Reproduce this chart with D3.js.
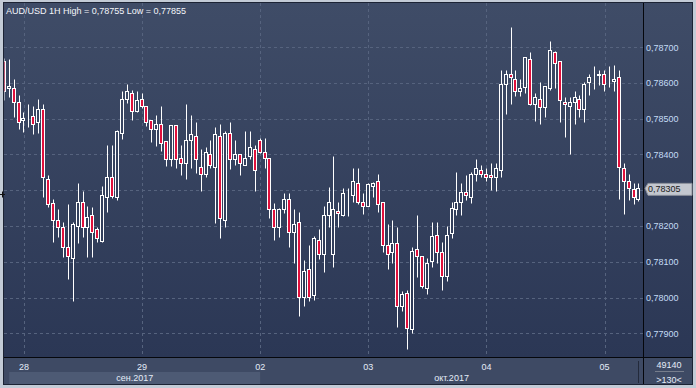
<!DOCTYPE html>
<html>
<head>
<meta charset="utf-8">
<script src="https://cdn.jsdelivr.net/npm/d3@7"></script>
<style>
  html, body { margin: 0; padding: 0; background: #c3cbd6; }
  svg { display: block; }
  text { font-family: 'Liberation Sans', Arial, sans-serif; }
</style>
</head>
<body>
<div id="chart"></div>
<script>
// AUD/USD 1H candles, 130 bars (Sep 27 evening .. Oct 05)
const opens = [
  0.78661, 0.78585, 0.78585, 0.78546, 0.78495, 0.78500, 0.78506, 0.78490, 0.78526, 0.78330,
  0.78265, 0.78216, 0.78196, 0.78141, 0.78110, 0.78200, 0.78266, 0.78196, 0.78231, 0.78191,
  0.78159, 0.78280, 0.78337, 0.78280, 0.78459, 0.78554, 0.78571, 0.78520, 0.78554, 0.78535,
  0.78495, 0.78470, 0.78484, 0.78437, 0.78388, 0.78481, 0.78389, 0.78375, 0.78439, 0.78451,
  0.78364, 0.78344, 0.78400, 0.78364, 0.78451, 0.78216, 0.78459, 0.78386, 0.78400, 0.78370,
  0.78395, 0.78414, 0.78439, 0.78406, 0.78389, 0.78247, 0.78196, 0.78247, 0.78275, 0.78184,
  0.78210, 0.78001, 0.78081, 0.78007, 0.78160, 0.78121, 0.78230, 0.78121, 0.78242, 0.78230,
  0.78287, 0.78286, 0.78319, 0.78266, 0.78256, 0.78312, 0.78325, 0.78266, 0.78146, 0.78127,
  0.78152, 0.77977, 0.78014, 0.77912, 0.78135, 0.78115, 0.78026, 0.78101, 0.78174, 0.78127,
  0.78060, 0.78180, 0.78246, 0.78266, 0.78294, 0.78280, 0.78344, 0.78356, 0.78344, 0.78342,
  0.78336, 0.78355, 0.78596, 0.78624, 0.78610, 0.78578, 0.78589, 0.78666, 0.78540, 0.78554,
  0.78532, 0.78585, 0.78685, 0.78660, 0.78546, 0.78534, 0.78546, 0.78554, 0.78526, 0.78601,
  0.78615, 0.78621, 0.78624, 0.78601, 0.78604, 0.78615, 0.78361, 0.78325, 0.78303, 0.78275
];
const highs = [
  0.78669, 0.78666, 0.78611, 0.78566, 0.78517, 0.78541, 0.78536, 0.78554, 0.78541, 0.78343,
  0.78275, 0.78247, 0.78212, 0.78262, 0.78211, 0.78319, 0.78298, 0.78257, 0.78254, 0.78196,
  0.78312, 0.78426, 0.78426, 0.78468, 0.78577, 0.78597, 0.78580, 0.78577, 0.78571, 0.78536,
  0.78496, 0.78509, 0.78535, 0.78438, 0.78482, 0.78482, 0.78425, 0.78541, 0.78510, 0.78491,
  0.78414, 0.78420, 0.78440, 0.78476, 0.78485, 0.78465, 0.78491, 0.78439, 0.78401, 0.78465,
  0.78465, 0.78425, 0.78445, 0.78445, 0.78390, 0.78265, 0.78251, 0.78291, 0.78291, 0.78247,
  0.78240, 0.78105, 0.78147, 0.78172, 0.78191, 0.78256, 0.78310, 0.78396, 0.78267, 0.78305,
  0.78306, 0.78361, 0.78361, 0.78291, 0.78319, 0.78322, 0.78345, 0.78267, 0.78205, 0.78217,
  0.78197, 0.78017, 0.78021, 0.78141, 0.78230, 0.78116, 0.78110, 0.78211, 0.78211, 0.78155,
  0.78199, 0.78268, 0.78350, 0.78319, 0.78342, 0.78350, 0.78386, 0.78370, 0.78361, 0.78375,
  0.78375, 0.78636, 0.78636, 0.78755, 0.78636, 0.78610, 0.78672, 0.78686, 0.78571, 0.78603,
  0.78591, 0.78717, 0.78689, 0.78661, 0.78560, 0.78560, 0.78577, 0.78565, 0.78603, 0.78624,
  0.78647, 0.78636, 0.78636, 0.78647, 0.78650, 0.78636, 0.78376, 0.78345, 0.78319, 0.78319
];
const lows = [
  0.78552, 0.78560, 0.78505, 0.78470, 0.78463, 0.78476, 0.78457, 0.78461, 0.78280, 0.78254,
  0.78155, 0.78170, 0.78114, 0.78051, 0.77991, 0.78152, 0.78169, 0.78114, 0.78114, 0.78155,
  0.78155, 0.78240, 0.78277, 0.78273, 0.78444, 0.78543, 0.78495, 0.78518, 0.78530, 0.78479,
  0.78435, 0.78423, 0.78408, 0.78368, 0.78368, 0.78361, 0.78343, 0.78330, 0.78361, 0.78349,
  0.78299, 0.78336, 0.78361, 0.78209, 0.78165, 0.78198, 0.78360, 0.78370, 0.78343, 0.78369,
  0.78386, 0.78299, 0.78405, 0.78361, 0.78222, 0.78160, 0.78170, 0.78235, 0.78141, 0.78096,
  0.77949, 0.77975, 0.77989, 0.77993, 0.78107, 0.78070, 0.78197, 0.78085, 0.78197, 0.78229,
  0.78229, 0.78267, 0.78261, 0.78234, 0.78255, 0.78280, 0.78240, 0.78128, 0.78081, 0.78096,
  0.77919, 0.77961, 0.77855, 0.77900, 0.78057, 0.78026, 0.78009, 0.78085, 0.78096, 0.78020,
  0.78046, 0.78166, 0.78231, 0.78231, 0.78273, 0.78263, 0.78325, 0.78338, 0.78325, 0.78301,
  0.78299, 0.78338, 0.78513, 0.78540, 0.78562, 0.78563, 0.78571, 0.78539, 0.78494, 0.78484,
  0.78505, 0.78579, 0.78585, 0.78490, 0.78449, 0.78400, 0.78484, 0.78505, 0.78490, 0.78565,
  0.78584, 0.78593, 0.78576, 0.78589, 0.78576, 0.78275, 0.78234, 0.78273, 0.78261, 0.78269
];
const closes = [
  0.78578, 0.78591, 0.78546, 0.78491, 0.78501, 0.78500, 0.78484, 0.78526, 0.78336, 0.78262,
  0.78216, 0.78196, 0.78141, 0.78116, 0.78205, 0.78266, 0.78196, 0.78224, 0.78184, 0.78165,
  0.78287, 0.78337, 0.78285, 0.78465, 0.78554, 0.78577, 0.78521, 0.78552, 0.78535, 0.78491,
  0.78470, 0.78484, 0.78431, 0.78386, 0.78481, 0.78386, 0.78375, 0.78439, 0.78456, 0.78386,
  0.78344, 0.78406, 0.78370, 0.78456, 0.78222, 0.78459, 0.78388, 0.78400, 0.78375, 0.78389,
  0.78420, 0.78356, 0.78406, 0.78389, 0.78247, 0.78196, 0.78247, 0.78275, 0.78184, 0.78205,
  0.78001, 0.78075, 0.78001, 0.78166, 0.78121, 0.78230, 0.78266, 0.78247, 0.78236, 0.78291,
  0.78287, 0.78325, 0.78266, 0.78256, 0.78317, 0.78319, 0.78262, 0.78146, 0.78121, 0.78152,
  0.77977, 0.78009, 0.77914, 0.78129, 0.78115, 0.78031, 0.78096, 0.78171, 0.78127, 0.78060,
  0.78174, 0.78249, 0.78268, 0.78294, 0.78286, 0.78344, 0.78361, 0.78344, 0.78338, 0.78336,
  0.78361, 0.78596, 0.78624, 0.78615, 0.78576, 0.78585, 0.78671, 0.78540, 0.78560, 0.78532,
  0.78590, 0.78691, 0.78654, 0.78551, 0.78540, 0.78546, 0.78560, 0.78526, 0.78596, 0.78615,
  0.78615, 0.78624, 0.78596, 0.78601, 0.78610, 0.78365, 0.78325, 0.78305, 0.78280, 0.78305
];

// day separators (bar index of midnight) and labels
const dayIndex = [4, 28, 52, 74, 98, 122];
const dayLabels = ['28', '29', '02', '03', '04', '05'];
const monthStart = [1, 52];
const monthLabels = ['сен.2017', 'окт.2017'];
const priceTicks = [0.779, 0.780, 0.781, 0.782, 0.783, 0.784, 0.785, 0.786, 0.787];

const title = 'AUD/USD 1H High = 0,78755 Low = 0,77855';
const lastPrice = closes[closes.length - 1];
const volumeText = '49140';
const barsText = '>130<';

const width = 696, height = 388;
const panel = { left: 4, top: 3, right: 692, bottom: 384 };
const plot = { left: 4, top: 3, right: 643, bottom: 357.5 };

const data = opens.map((o, i) => ({ i, o, h: highs[i], l: lows[i], c: closes[i] }));

const x = d3.scaleBand()
  .domain(d3.range(data.length))
  .range([1.84, 641.44]);
const cx = i => x(i) + x.bandwidth() / 2;

const y = d3.scaleLinear()
  .domain([0.779, 0.787])
  .range([333.3, 47]);

const fmt = v => d3.format('.5f')(v).replace('.', ',');

const svg = d3.select('#chart').append('svg')
  .attr('width', width)
  .attr('height', height);

const defs = svg.append('defs');
const grad = defs.append('linearGradient')
  .attr('id', 'bg')
  .attr('gradientUnits', 'userSpaceOnUse')
  .attr('x1', 0).attr('x2', 0).attr('y1', plot.top).attr('y2', plot.bottom);
grad.append('stop').attr('offset', '0%').attr('stop-color', '#3f4c67');
grad.append('stop').attr('offset', '100%').attr('stop-color', '#2b3755');

defs.append('clipPath').attr('id', 'plotClip')
  .append('rect')
  .attr('x', plot.left + 0.5).attr('y', plot.top)
  .attr('width', plot.right - plot.left - 0.5)
  .attr('height', plot.bottom - plot.top);

// background panels
svg.append('rect')
  .attr('x', panel.left).attr('y', panel.top)
  .attr('width', panel.right - panel.left).attr('height', plot.bottom - panel.top)
  .attr('fill', 'url(#bg)');

svg.append('rect')
  .attr('x', panel.left).attr('y', plot.bottom)
  .attr('width', panel.right - panel.left).attr('height', panel.bottom - plot.bottom)
  .attr('fill', '#3e4a64');

// month band (alternating shade)
svg.append('rect')
  .attr('x', cx(monthStart[0])).attr('y', 372)
  .attr('width', cx(monthStart[1]) - cx(monthStart[0])).attr('height', panel.bottom - 372)
  .attr('fill', '#4d5a74');

// grid
const grid = svg.append('g').attr('class', 'grid')
  .attr('stroke', '#56637e').attr('stroke-dasharray', '3,3').attr('stroke-width', 1);

grid.selectAll('line.h')
  .data(priceTicks)
  .join('line')
  .attr('class', 'h')
  .attr('x1', plot.left).attr('x2', plot.right)
  .attr('y1', d => Math.round(y(d)) + 0.5)
  .attr('y2', d => Math.round(y(d)) + 0.5);

grid.selectAll('line.v')
  .data(dayIndex)
  .join('line')
  .attr('class', 'v')
  .attr('x1', d => Math.round(cx(d)) + 0.5)
  .attr('x2', d => Math.round(cx(d)) + 0.5)
  .attr('y1', plot.top).attr('y2', plot.bottom);

// candles
const candles = svg.append('g').attr('clip-path', 'url(#plotClip)')
  .selectAll('g.candle')
  .data(data)
  .join('g')
  .attr('class', 'candle');

const px = d => Math.floor(cx(d.i));
const py = v => Math.round(y(v)) + 0.5;

candles.append('line')
  .attr('x1', d => px(d) + 0.5).attr('x2', d => px(d) + 0.5)
  .attr('y1', d => py(d.h)).attr('y2', d => py(d.l))
  .attr('stroke', '#ffffff').attr('stroke-width', 1);

candles.append('rect')
  .attr('x', d => px(d) - 1.5)
  .attr('width', 3)
  .attr('y', d => py(Math.max(d.o, d.c)))
  .attr('height', d => py(Math.min(d.o, d.c)) - py(Math.max(d.o, d.c)))
  .attr('fill', d => d.c >= d.o ? 'url(#bg)' : '#e0103c')
  .attr('stroke', '#ffffff').attr('stroke-width', 1);

// frame lines
svg.append('line')
  .attr('x1', plot.right + 0.5).attr('x2', plot.right + 0.5)
  .attr('y1', panel.top).attr('y2', panel.bottom)
  .attr('stroke', '#05070c');
svg.append('line')
  .attr('x1', panel.left).attr('x2', panel.right)
  .attr('y1', plot.bottom).attr('y2', plot.bottom)
  .attr('stroke', '#05070c');
svg.append('rect')
  .attr('x', panel.left - 0.5).attr('y', panel.top - 0.5)
  .attr('width', panel.right - panel.left + 1).attr('height', panel.bottom - panel.top + 1)
  .attr('fill', 'none').attr('stroke', '#1c2334');

// small marker on the left edge
svg.append('path')
  .attr('d', 'M0,194.5H5M2.5,191.5V197.5')
  .attr('stroke', '#111').attr('stroke-width', 1);

// price axis labels (the one under the current price box is hidden)
const lp = y(lastPrice);
svg.append('g')
  .selectAll('text')
  .data(priceTicks.filter(d => Math.abs(y(d) - lp) > 10))
  .join('text')
  .attr('x', 646)
  .attr('y', d => y(d) + 3.5)
  .attr('fill', '#c4dcf6')
  .attr('font-size', 9)
  .text(fmt);

// current price marker
svg.append('path')
  .attr('d', `M645,${lp} L648,${lp - 5} H692 V${lp + 7} H648 Z`)
  .attr('fill', '#c3c7cf').attr('stroke', '#8a8f99');
svg.append('text')
  .attr('x', 648).attr('y', lp + 4)
  .attr('fill', '#1a1a1a').attr('font-size', 9)
  .text(fmt(lastPrice));

// time axis labels
svg.append('g')
  .selectAll('text')
  .data(dayIndex)
  .join('text')
  .attr('x', d => cx(d))
  .attr('y', 370)
  .attr('text-anchor', 'middle')
  .attr('fill', '#e4ecf8')
  .attr('font-size', 9)
  .text((d, k) => dayLabels[k]);

svg.append('g')
  .selectAll('text')
  .data(monthStart)
  .join('text')
  .attr('x', (d, k) => (cx(d) + (k + 1 < monthStart.length ? cx(monthStart[k + 1]) : plot.right)) / 2)
  .attr('y', 380.5)
  .attr('text-anchor', 'middle')
  .attr('fill', '#e4ecf8')
  .attr('font-size', 9)
  .text((d, k) => monthLabels[k]);

svg.append('line')
  .attr('x1', 638.5).attr('x2', 638.5).attr('y1', 361).attr('y2', 383)
  .attr('stroke', '#232a3b');

// volume / bar count box
svg.append('text')
  .attr('x', 669).attr('y', 368)
  .attr('text-anchor', 'middle').attr('fill', '#e4ecf8').attr('font-size', 9)
  .text(volumeText);
svg.append('line')
  .attr('x1', 655).attr('x2', 684).attr('y1', 371.5).attr('y2', 371.5)
  .attr('stroke', '#767d8c');
svg.append('text')
  .attr('x', 669).attr('y', 383)
  .attr('text-anchor', 'middle').attr('fill', '#e4ecf8').attr('font-size', 9)
  .text(barsText);

// title
svg.append('text')
  .attr('x', 6).attr('y', 14)
  .attr('fill', '#f4f6fa')
  .attr('font-size', 9)
  .text(title);
</script>
</body>
</html>
